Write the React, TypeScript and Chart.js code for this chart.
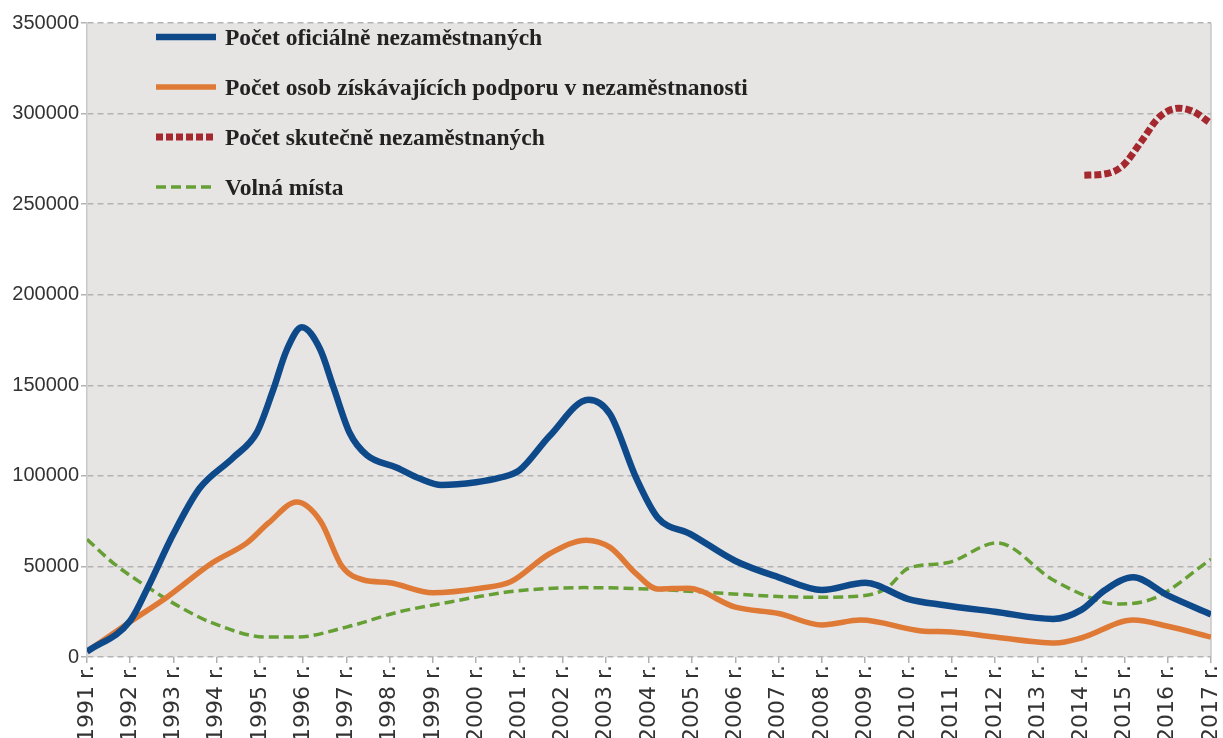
import React, { useEffect, useRef } from "react";
import { Chart, registerables } from "chart.js";

Chart.register(...registerables);

// ---- Data (years may be fractional to follow the smoothed curves) ----
const officialYears = [1991, 1992, 1992.4, 1993, 1993.6, 1994.38, 1994.93, 1995.3, 1995.62, 1995.97, 1996.39, 1996.7, 1997.08, 1997.47, 1998.17, 1998.7, 1999.2, 2000, 2000.55, 2001, 2001.7, 2002.6, 2003.1, 2003.7, 2004.2, 2004.95, 2006, 2007, 2008, 2009, 2010, 2010.8, 2012, 2013.35, 2014, 2014.55, 2015.2, 2016, 2017];
const officialValues = [3000, 20000, 38000, 68000, 93000, 110000, 124000, 147000, 169500, 182000, 170000, 149000, 123500, 111500, 104500, 98500, 95000, 96500, 99000, 103000, 122000, 142000, 134000, 99000, 77000, 68000, 53000, 44000, 37000, 41000, 32000, 28700, 25000, 21000, 26000, 37000, 44000, 34000, 23500];

const supportYears = [1991, 1992, 1992.85, 1993.9, 1994.7, 1995.2, 1995.85, 1996.4, 1996.9, 1997.4, 1998, 1999, 2000.1, 2000.8, 2001.7, 2002.55, 2003.1, 2003.7, 2004.2, 2004.9, 2006, 2007, 2008, 2008.9, 2010.3, 2011, 2012, 2013.4, 2014, 2015.2, 2016, 2017];
const supportValues = [3000, 19500, 33000, 52000, 63000, 74000, 85500, 75000, 50000, 42500, 41000, 35500, 38000, 41500, 57000, 64500, 60500, 46000, 37500, 38000, 27500, 24000, 17700, 20400, 14400, 13800, 11000, 7700, 10500, 20400, 17000, 11000];

const actualYears = [2014.07, 2014.5, 2014.95, 2015.4, 2015.8, 2016.25, 2016.6, 2016.97];
const actualValues = [266000, 266500, 271000, 285000, 298000, 303000, 301000, 295000];

const vacancyYears = [1991, 1991.6, 1992.4, 1993.15, 1993.9, 1995.15, 1995.85, 1997, 1998.2, 1999.4, 2000.1, 2000.95, 2002.5, 2004, 2005.6, 2007.1, 2007.9, 2008.9, 2009.5, 2010, 2010.9, 2012.05, 2013.35, 2014.5, 2014.9, 2015.7, 2017];
const vacancyValues = [65000, 52000, 38600, 27600, 18800, 11000, 11000, 16500, 24800, 30400, 33500, 36500, 38300, 37500, 35300, 33300, 33000, 33700, 38000, 49000, 52000, 63000, 42500, 30400, 29300, 32600, 54000];

const seriesLabels = [
  "Počet oficiálně nezaměstnaných",
  "Počet osob získávajících podporu v nezaměstnanosti",
  "Počet skutečně nezaměstnaných",
  "Volná místa",
];

const yearMin = 1991;
const yearMax = 2017;
const yearSuffix = " r.";
const valueMax = 350000;
const valueStep = 50000;

const toPoints = (xs: number[], ys: number[]) => xs.map((x, i) => ({ x, y: ys[i] }));

const plotBgPlugin = {
  id: "plotBg",
  beforeDraw(chart: any) {
    const { ctx, chartArea } = chart;
    ctx.save();
    ctx.fillStyle = "#e7e4e4";
    ctx.fillRect(chartArea.left, chartArea.top, chartArea.right - chartArea.left, chartArea.bottom - chartArea.top);
    ctx.strokeStyle = "#c9c9c9";
    ctx.lineWidth = 1.5;
    ctx.beginPath();
    ctx.moveTo(chartArea.right, chartArea.top);
    ctx.lineTo(chartArea.right, chartArea.bottom);
    ctx.stroke();
    ctx.restore();
  },
};

const inlineLegendPlugin = {
  id: "inlineLegend",
  afterDraw(chart: any) {
    const { ctx, chartArea } = chart;
    const x0 = chartArea.left + 69;
    const x1 = x0 + 60;
    const rows = [37, 87, 137, 187];
    ctx.save();
    chart.data.datasets.forEach((ds: any, i: number) => {
      const y = rows[i];
      ctx.beginPath();
      ctx.strokeStyle = ds.borderColor;
      ctx.lineWidth = ds.borderWidth;
      ctx.setLineDash(ds.borderDash || []);
      ctx.lineCap = "butt";
      ctx.moveTo(x0, y);
      ctx.lineTo(x1, y);
      ctx.stroke();
      ctx.setLineDash([]);
      ctx.fillStyle = "#222";
      ctx.font = 'bold 23.5px "Liberation Serif", "Times New Roman", serif';
      ctx.textBaseline = "middle";
      ctx.textAlign = "left";
      ctx.fillText(ds.label, x1 + 9, y + 2);
    });
    ctx.restore();
  },
};

export default function App() {
  const canvasRef = useRef<HTMLCanvasElement | null>(null);

  useEffect(() => {
    document.body.style.margin = "0";
    const canvas = canvasRef.current;
    if (!canvas) return;
    const chart = new Chart(canvas, {
      type: "line",
      data: {
        datasets: [
          {
            label: seriesLabels[0],
            data: toPoints(officialYears, officialValues),
            borderColor: "#0e4a8a",
            borderWidth: 6.5,
            cubicInterpolationMode: "monotone",
            pointRadius: 0,
            fill: false,
          },
          {
            label: seriesLabels[1],
            data: toPoints(supportYears, supportValues),
            borderColor: "#de7a36",
            borderWidth: 5.5,
            cubicInterpolationMode: "monotone",
            pointRadius: 0,
            fill: false,
          },
          {
            label: seriesLabels[2],
            data: toPoints(actualYears, actualValues),
            borderColor: "#a4282e",
            borderWidth: 7,
            borderDash: [7, 3],
            cubicInterpolationMode: "monotone",
            pointRadius: 0,
            fill: false,
          },
          {
            label: seriesLabels[3],
            data: toPoints(vacancyYears, vacancyValues),
            borderColor: "#66a035",
            borderWidth: 3.5,
            borderDash: [10, 5],
            cubicInterpolationMode: "monotone",
            pointRadius: 0,
            fill: false,
          },
        ],
      },
      options: {
        responsive: false,
        animation: false,
        layout: { padding: { top: 23, right: 12, left: 0, bottom: 0 } },
        plugins: {
          legend: { display: false },
          tooltip: { enabled: false },
        },
        scales: {
          x: {
            type: "linear",
            min: yearMin,
            max: yearMax,
            afterFit: (s: any) => {
              s.height = 81;
              s.paddingRight = 0;
              s.paddingLeft = 0;
            },
            ticks: {
              stepSize: 1,
              autoSkip: false,
              minRotation: 90,
              maxRotation: 90,
              padding: 2,
              color: "#333",
              font: { family: '"DejaVu Sans", sans-serif', size: 22, lineHeight: 1 },
              callback: (v: any) => `${v}${yearSuffix}`,
            },
            grid: {
              drawOnChartArea: false,
              drawTicks: true,
              tickLength: 6,
              color: "#b0b0b0",
              lineWidth: 1.5,
            },
            border: { display: false },
          },
          y: {
            min: 0,
            max: valueMax,
            afterFit: (s: any) => {
              s.width = 87;
            },
            ticks: {
              stepSize: valueStep,
              padding: 2,
              color: "#333",
              font: { family: '"Liberation Sans", Arial, sans-serif', size: 20 },
              callback: (v: any) => `${v}`,
            },
            grid: {
              color: "#b3b3b3",
              lineWidth: 1.5,
              tickLength: 6,
              tickColor: "#b3b3b3",
              tickBorderDash: [],
            },
            border: { display: true, color: "#c9c9c9", width: 1.5, dash: [6, 4] },
          },
        },
      } as any,
      plugins: [plotBgPlugin, inlineLegendPlugin],
    });
    return () => chart.destroy();
  }, []);

  return (
    <div style={{ width: 1223, height: 738 }}>
      <canvas ref={canvasRef} width={1223} height={738} style={{ display: "block" }} />
    </div>
  );
}
